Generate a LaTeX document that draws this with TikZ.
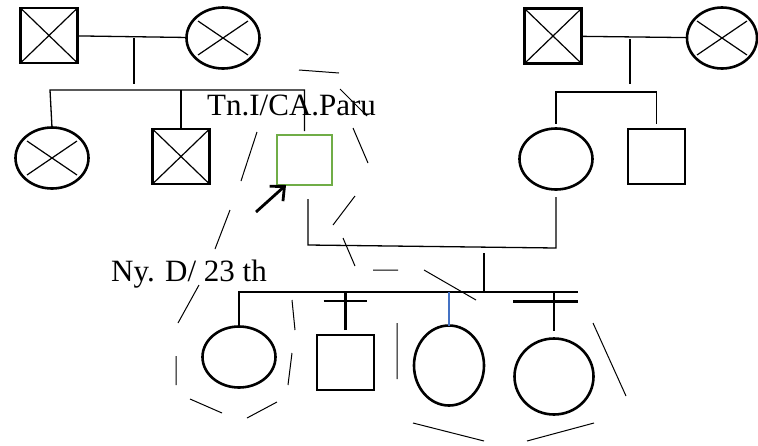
\documentclass[tikz,border=0pt]{standalone}
\usepackage{fontspec}
\setmainfont{Liberation Serif}
\usetikzlibrary{shapes.geometric,arrows.meta}
\definecolor{probgreen}{HTML}{70AD47}
\definecolor{linkblue}{HTML}{4472C4}

\begin{document}
\begin{tikzpicture}[x=1pt,y=-1pt,
  male/.style={draw,rectangle,line width=2.8pt,minimum width=57pt,minimum height=55pt,inner sep=0pt,outer sep=0pt},
  female/.style={draw,ellipse,line width=2.6pt,minimum width=73pt,minimum height=61pt,inner sep=0pt,outer sep=0pt},
  cross/.style={path picture={\draw[line width=1.2pt]
    (path picture bounding box.north west) -- (path picture bounding box.south east)
    (path picture bounding box.north east) -- (path picture bounding box.south west);}},
  ecross/.style={path picture={\draw[line width=1.2pt]
    ([shift={(-25,-17)}]path picture bounding box.center) -- ([shift={(25,17)}]path picture bounding box.center)
    ([shift={(-25,17)}]path picture bounding box.center) -- ([shift={(25,-17)}]path picture bounding box.center);}},
  thinline/.style={line width=1.3pt},
  sibline/.style={line width=2.6pt},
  dashseg/.style={line width=1pt},
  label/.style={anchor=base west,inner sep=0pt,font=\fontsize{31}{31}\selectfont}]
  \useasboundingbox (0,0) rectangle (758,445);
  % father's parents and sibs
  \node[male,cross] (pgf) at (49,35.5) {};
  \node[female,ecross] (pgm) at (223,38) {};
  \node[female,ecross] (aunt) at (52,158) {};
  \node[male,cross] (puncle) at (181,156.5) {};
  \node[male,draw=probgreen,line width=2.2pt,minimum width=55pt,minimum height=50pt] (prob) at (304.5,160) {};
  \draw[thinline] (pgf) -- (pgm);
  \coordinate (pm) at (134,38);
  \coordinate (pd) at (134,84);
  \draw[thinline] (pm) -- (pd);
  \coordinate (psib) at (50,90);
  \draw[thinline] (aunt.north) -- (psib) -| ([yshift=4pt]prob.north);
  \draw[thinline] (puncle.north) -- (puncle.north |- psib);
  % mother's parents and sibs
  \node[male,cross] (mgf) at (553,36) {};
  \node[female,ecross,minimum width=70pt] (mgm) at (722,38) {};
  \node[female] (mother) at (556,159) {};
  \node[male] (muncle) at (656.5,156.5) {};
  \draw[thinline] (mgf) -- (mgm);
  \coordinate (mm) at (630,39);
  \coordinate (md) at (630,84);
  \draw[thinline] (mm) -- (md);
  \coordinate (msib) at (556,92);
  \draw[thinline] ([yshift=5pt]mother.north) -- (msib) -| ([yshift=5pt]muncle.north);
  % couple line
  \coordinate (fl) at (308,199);
  \coordinate (cl) at (308,245);
  \coordinate (cr) at (556,248);
  \coordinate (ml) at (556,197);
  \draw[thinline] (fl) -- (cl) -- (cr) -- (ml);
  % children
  \node[female] (ch1) at (239,357) {};
  \node[male] (ch2) at (345.5,362.5) {};
  \node[female,minimum width=70pt,minimum height=80pt] (ch3) at (449,365.5) {};
  \node[female,minimum width=79pt,minimum height=76pt] (ch4) at (554,376.5) {};
  \coordinate (cd) at (484,253);
  \coordinate (cend) at (578,292);
  \draw[sibline] (cd) -- (cd |- cend);
  \draw[sibline] (ch1.north) -- (ch1.north |- cend) -- (cend);
  \draw[sibline] ([yshift=5pt]ch2.north) -- (ch2.north |- cend);
  \draw[sibline,linkblue] (ch3.north) -- (ch3.north |- cend);
  \draw[sibline] ([yshift=8pt]ch4.north) -- (ch4.north |- cend);
  \draw[sibline] ([shift={(-22,-34)}]ch2.north) -- ([shift={(21,-34)}]ch2.north);
  \draw[sibline] ([shift={(-41,-37)}]ch4.north) -- ([shift={(24,-37)}]ch4.north);
  % pointer and labels
  \coordinate (arrtail) at (256,212);
  \draw[line width=2.8pt,-{Straight Barb[length=11pt,width=20pt]}] (arrtail) -- ([xshift=9pt]prob.south west);
  \node[label] (lblprob) at (207,115) {Tn.I/CA.Paru};
  \node[label] (lblkids) at (111,281) {Ny. D/ 23 th};
  % broken rings
  \draw[dashseg] (299,70) -- (339,73)  (340,89) -- (367,116)  (353,128) -- (368,163)
    (257,132) -- (241,181)  (355,196) -- (333,225)  (230,210) -- (215,249)
    (343,238) -- (355,266);
  \draw[dashseg] (199,285) -- (178,323)  (176,356) -- (176,385)  (190,399) -- (222,413)
    (247,418) -- (277,402)  (292,353) -- (288,385)  (292,300) -- (295,330)
    (373,270) -- (398,270)  (424,270) -- (476,300)  (397,323) -- (397,379)
    (413,423) -- (484,441)  (527,441) -- (594,423)  (593,323) -- (626,396);
\end{tikzpicture}
\end{document}
